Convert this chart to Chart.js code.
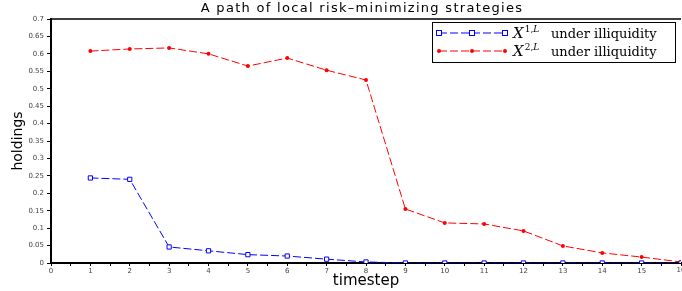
<!DOCTYPE html>
<html>
<head>
<meta charset="utf-8">
<script src="https://cdn.jsdelivr.net/npm/chart.js@4.4.0/dist/chart.umd.min.js"></script>
<style>
  html, body { margin: 0; padding: 0; background: #fff; }
  #wrap { width: 682px; height: 291px; position: relative; }
</style>
</head>
<body>
<div id="wrap"><canvas id="mycanvas"></canvas></div>
<script>
var timesteps = [1, 2, 3, 4, 5, 6, 7, 8, 9, 10, 11, 12, 13, 14, 15, 16];
var holdings1 = [0.244, 0.240, 0.046, 0.035, 0.024, 0.020, 0.011, 0.003, 0, 0, 0, 0, 0, 0, 0, 0];
var holdings2 = [0.608, 0.614, 0.617, 0.600, 0.565, 0.588, 0.553, 0.525, 0.155, 0.115, 0.112, 0.092, 0.049, 0.029, 0.017, 0.003];
var seriesNames = ['X', 'X'];
var seriesSup = ['1,L', '2,L'];
var seriesSuffix = 'under illiquidity';
var titleText = 'A path of local risk\u2013minimizing strategies';
var xMax = 16;

function toPoints(xs, ys) {
  var pts = [];
  for (var i in xs) {
    pts.push({ x: xs[i], y: ys[i] });
  }
  return pts;
}

// title, top frame line, clipped last x label and legend box with math labels
var extras = {
  id: 'extras',
  afterDraw: function (chart) {
    var ctx = chart.ctx;
    var a = chart.chartArea;
    ctx.save();
    ctx.strokeStyle = '#000';
    ctx.lineWidth = 1.5;
    ctx.beginPath();
    ctx.moveTo(a.left, a.top);
    ctx.lineTo(a.right, a.top);
    ctx.stroke();

    // last tick label runs off the canvas edge like in the original
    ctx.fillStyle = '#444';
    ctx.font = '7px "DejaVu Sans"';
    ctx.textAlign = 'center';
    ctx.textBaseline = 'top';
    ctx.fillText(String(xMax), chart.scales.x.getPixelForValue(xMax), a.bottom + 4);

    ctx.fillStyle = '#000';
    ctx.font = '13px "DejaVu Sans"';
    ctx.letterSpacing = '1.3px';
    ctx.textAlign = 'center';
    ctx.textBaseline = 'middle';
    ctx.fillText(titleText, 362, 9);
    ctx.letterSpacing = '0px';

    // legend
    var bx = 432, by = 22, bw = 243, bh = 40;
    ctx.fillStyle = '#fff';
    ctx.fillRect(bx, by, bw, bh);
    ctx.strokeStyle = '#000';
    ctx.lineWidth = 1;
    ctx.strokeRect(bx + 0.5, by + 0.5, bw, bh);

    var rows = [33, 51];
    chart.data.datasets.forEach(function (ds, i) {
      var y = rows[i];
      ctx.strokeStyle = ds.borderColor;
      ctx.lineWidth = 1;
      ctx.setLineDash(ds.borderDash);
      ctx.beginPath();
      ctx.moveTo(439, y);
      ctx.lineTo(505, y);
      ctx.stroke();
      ctx.setLineDash([]);
      [439, 472, 505].forEach(function (mx) {
        if (ds.pointStyle === 'rect') {
          ctx.fillStyle = '#fff';
          ctx.fillRect(mx - 2.5, y - 2.5, 5, 5);
          ctx.strokeRect(mx - 2.5, y - 2.5, 5, 5);
        } else {
          ctx.fillStyle = ds.pointBackgroundColor;
          ctx.beginPath();
          ctx.arc(mx, y, 2, 0, Math.PI * 2);
          ctx.fill();
        }
      });
      ctx.fillStyle = '#000';
      ctx.textAlign = 'left';
      ctx.textBaseline = 'alphabetic';
      ctx.font = 'italic 15px "DejaVu Serif"';
      ctx.fillText(seriesNames[i], 513, y + 5);
      var w = ctx.measureText(seriesNames[i]).width;
      var parts = seriesSup[i].split(',');
      ctx.font = '9px "DejaVu Serif"';
      var sx = 513 + w + 1;
      ctx.fillText(parts[0] + ',', sx, y - 1);
      sx += ctx.measureText(parts[0] + ',').width;
      ctx.font = 'italic 9px "DejaVu Serif"';
      ctx.fillText(parts[1], sx, y - 1);
      ctx.font = '13px "DejaVu Serif"';
      ctx.fillText(seriesSuffix, 551, y + 5);
    });
    ctx.restore();
  }
};

var ctx = document.getElementById('mycanvas').getContext('2d');
var chart = new Chart(ctx, {
  type: 'line',
  data: {
    datasets: [
      {
        label: 'X1,L under illiquidity',
        data: toPoints(timesteps, holdings1),
        borderColor: 'rgb(0, 0, 255)',
        borderWidth: 1,
        borderDash: [8, 3],
        pointStyle: 'rect',
        pointRadius: 3,
        pointBorderWidth: 1,
        pointBackgroundColor: '#fff',
        pointBorderColor: 'rgb(0, 0, 255)',
        fill: false,
        tension: 0
      },
      {
        label: 'X2,L under illiquidity',
        data: toPoints(timesteps, holdings2),
        borderColor: 'rgb(255, 0, 0)',
        borderWidth: 1,
        borderDash: [8, 3],
        pointStyle: 'circle',
        pointRadius: 2,
        pointBorderWidth: 0,
        pointBackgroundColor: 'rgb(255, 0, 0)',
        pointBorderColor: 'rgb(255, 0, 0)',
        fill: false,
        tension: 0
      }
    ]
  },
  options: {
    responsive: true,
    maintainAspectRatio: false,
    animation: false,
    layout: { autoPadding: false, padding: { top: 19, right: 1, left: 0, bottom: 0 } },
    plugins: {
      legend: { display: false },
      title: { display: false },
      tooltip: { enabled: false }
    },
    scales: {
      x: {
        type: 'linear',
        min: 0,
        max: xMax,
        grid: { display: true, drawOnChartArea: false, drawTicks: true, tickLength: 3, color: '#000' },
        border: { display: true, color: '#000', width: 2 },
        ticks: {
          stepSize: 0.5,
          autoSkip: false,
          maxRotation: 0,
          padding: 1,
          color: '#444',
          font: { family: 'DejaVu Sans', size: 7 },
          callback: function (v) { return (v % 1 === 0 && v !== xMax) ? String(v) : ''; }
        },
        title: { display: true, text: 'timestep', color: '#000', font: { family: 'DejaVu Sans', size: 15 }, padding: { top: 0, bottom: 1 } },
        afterFit: function (scale) { scale.height = 28; }
      },
      y: {
        min: 0,
        max: 0.7,
        grid: { display: true, drawOnChartArea: false, drawTicks: true, tickLength: 4, color: '#000' },
        border: { display: true, color: '#000', width: 2 },
        ticks: {
          stepSize: 0.05,
          autoSkip: false,
          padding: 3,
          color: '#444',
          font: { family: 'DejaVu Sans', size: 7 },
          callback: function (v) { return String(Math.round(v * 100) / 100); }
        },
        title: { display: true, text: 'holdings', color: '#000', font: { family: 'DejaVu Sans', size: 14 }, padding: { top: 10, bottom: 0 } },
        afterFit: function (scale) { scale.width = 51; }
      }
    }
  },
  plugins: [extras]
});
</script>
</body>
</html>
